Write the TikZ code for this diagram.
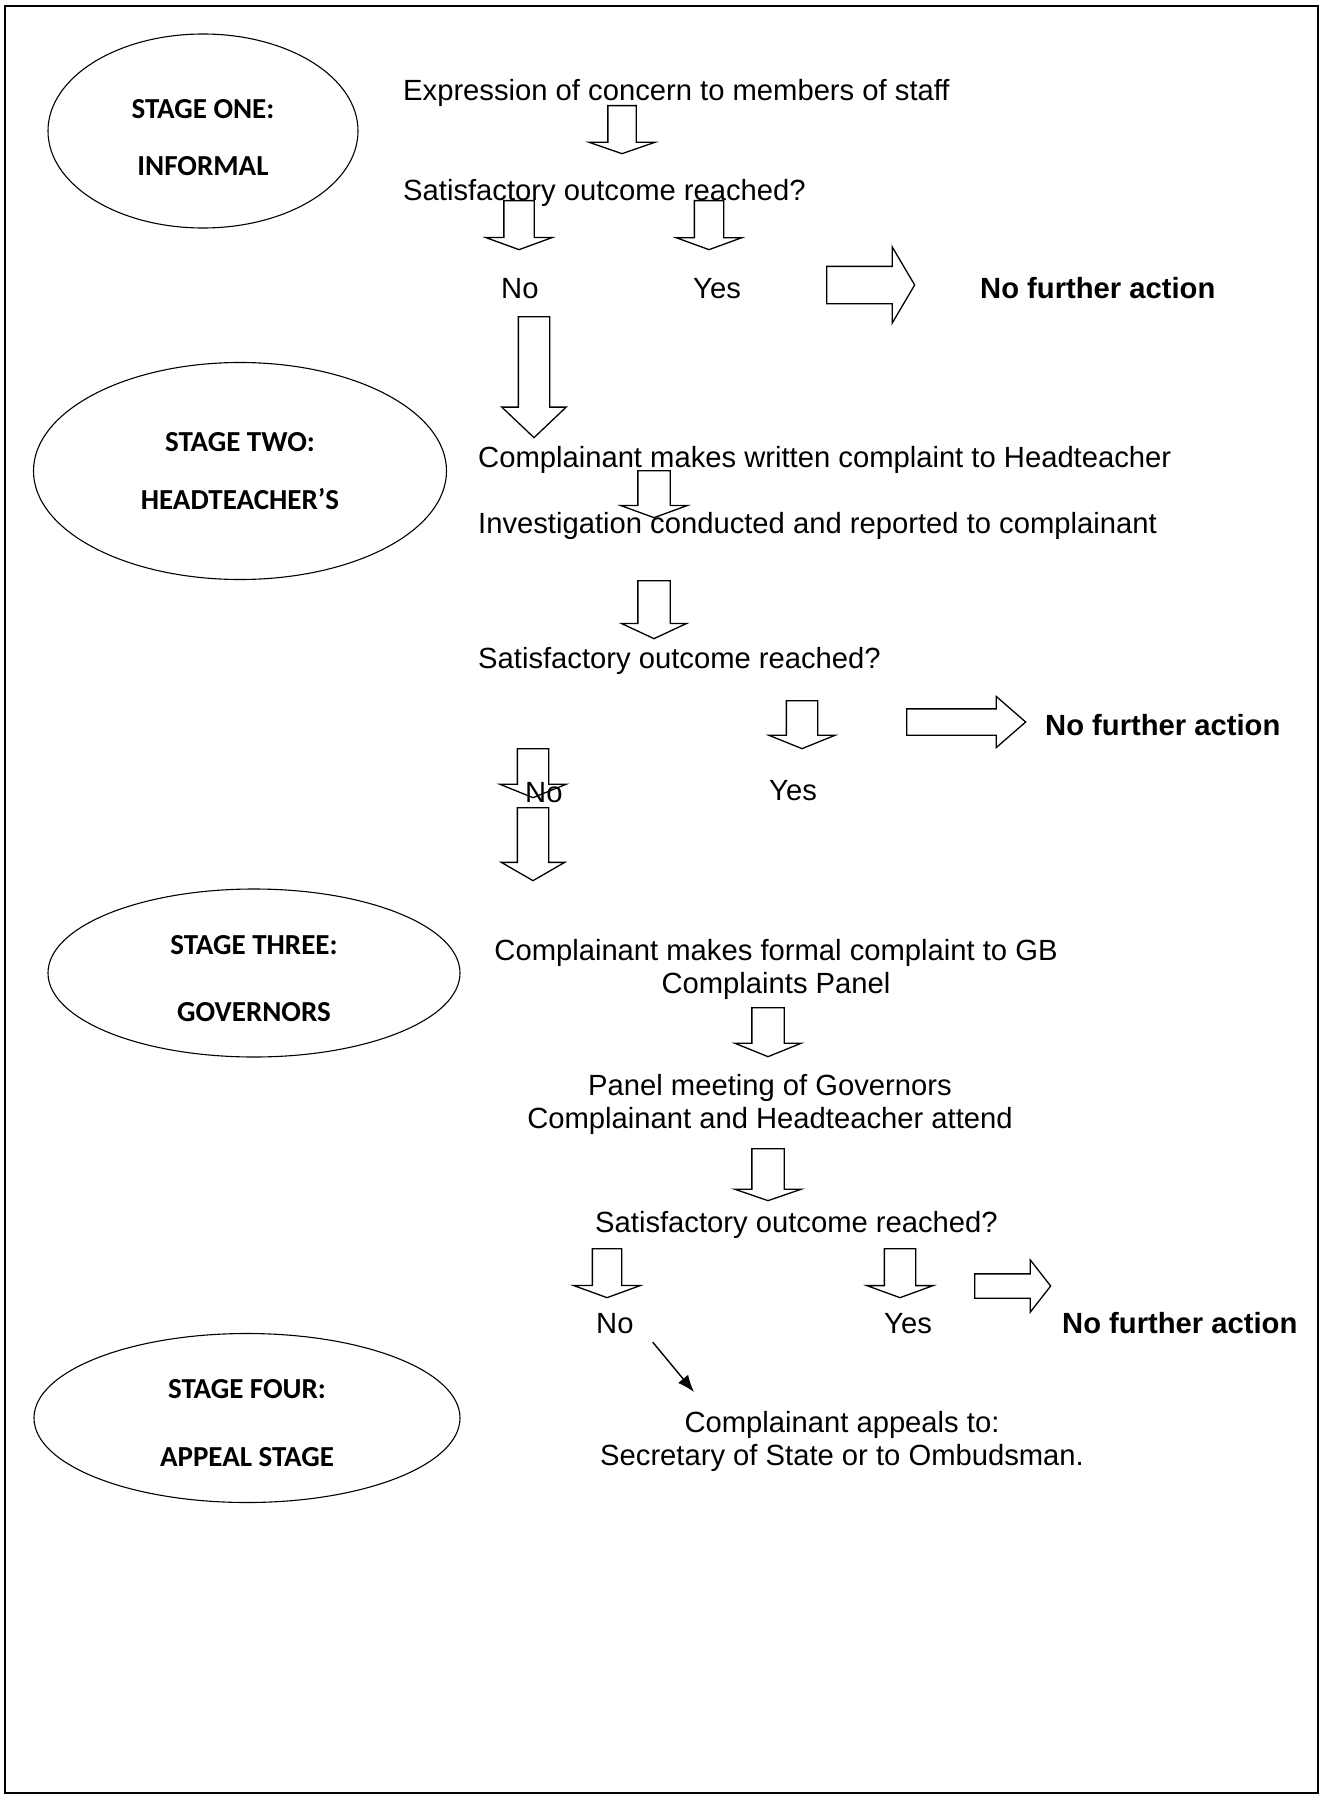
\documentclass[tikz,border=0pt]{standalone}
\usepackage{fontspec}
\setmainfont{Liberation Sans}
\newfontfamily\stagefont{Carlito}
\usepackage{tikz}
\usetikzlibrary{positioning}
\usetikzlibrary{shapes.geometric}
\usetikzlibrary{shapes.arrows}
\usetikzlibrary{arrows.meta}
\tikzstyle{stage} = [draw, ellipse, line width=1.1pt, inner sep=0pt]
\tikzstyle{stagetxt} = [inner sep=0pt, align=center, font=\stagefont\bfseries\fontsize{29}{34}\selectfont]
\tikzstyle{txt} = [inner sep=0pt, anchor=mid west, yshift=-8pt, font=\fontsize{29.2}{34}\selectfont]
\tikzstyle{btxt} = [txt, font=\bfseries\fontsize{29.2}{34}\selectfont]
\tikzstyle{ctxt} = [inner sep=0pt, align=center, font=\fontsize{29.2}{33}\selectfont]
\tikzstyle{dnarrow} = [draw, single arrow, rotate=-90, anchor=tail, line width=1.3pt, inner xsep=0pt, inner ysep=14.5pt, single arrow head extend=18pt, single arrow tip angle=140, single arrow head indent=0pt, minimum height=49pt]
\tikzstyle{rtarrow} = [draw, single arrow, anchor=tail, line width=1.3pt, inner xsep=0pt, single arrow head indent=0pt]

\begin{document}
\begin{tikzpicture}[x=1pt,y=-1pt]
    \useasboundingbox (0,0) rectangle (1321,1795);
    \draw [line width=2.3pt] (5,6) rectangle (1318,1793);

    % stage one
    \node [stage, minimum width=310pt, minimum height=194pt] (one) at (203,131) {};
    \node [stagetxt] (onetxt) at ([yshift=-7pt]one.center) {STAGE ONE:\\[23pt]INFORMAL};
    \node [txt] (expr) at (403,90) {Expression of concern to members of staff};
    \node [dnarrow, inner ysep=13.5pt, single arrow head extend=19pt, single arrow tip angle=142, minimum height=48pt] (a1) at (622,105) {};
    \node [txt] (sat1) at (403,190) {Satisfactory outcome reached?};
    \node [dnarrow] (a2) at (519,200) {};
    \node [dnarrow, inner ysep=14pt] (a3) at (709,200) {};
    \node [txt] (no1) at (501,288) {No};
    \node [txt] (yes1) at (693,288) {Yes};
    \node [rtarrow, inner ysep=18pt, single arrow head extend=19.5pt, single arrow tip angle=119, minimum height=88pt] (r1) at (826,285) {};
    \node [btxt] (nfa1) at (980,288) {No further action};

    % stage two
    \node [dnarrow, inner ysep=15pt, single arrow head extend=16.5pt, single arrow tip angle=93, minimum height=121pt] (b1) at (534,316) {};
    \node [stage, minimum width=413pt, minimum height=217pt] (two) at (240,471) {};
    \node [stagetxt] (twotxt) at (two.center) {STAGE TWO:\\[24pt]HEADTEACHER’S};
    \node [txt] (written) at (478,457) {Complainant makes written complaint to Headteacher};
    \node [dnarrow, inner ysep=15.5pt, single arrow head extend=17pt, minimum height=47pt] (a4) at (654,470) {};
    \node [txt] (invest) at (478,523) {Investigation conducted and reported to complainant};
    \node [dnarrow, inner ysep=15.5pt, single arrow head extend=16.5pt, single arrow tip angle=130, minimum height=58pt] (a5) at (654,580) {};
    \node [txt] (sat2) at (478,658) {Satisfactory outcome reached?};
    \node [dnarrow, inner ysep=15pt, single arrow head extend=17.5pt, single arrow tip angle=136, minimum height=48pt] (a6) at (802,700) {};
    \node [rtarrow, inner ysep=12.5pt, single arrow head extend=12.5pt, single arrow tip angle=82, minimum height=119pt] (r2) at (906,722) {};
    \node [btxt] (nfa2) at (1045,725) {No further action};
    \node [dnarrow, inner ysep=15pt, single arrow head extend=17.5pt, single arrow tip angle=136] (a7) at (533,748) {};
    \node [txt] (no2) at (525,792) {No};
    \node [txt] (yes2) at (769,790) {Yes};

    % stage three
    \node [dnarrow, inner ysep=15pt, single arrow head extend=16pt, single arrow tip angle=120, minimum height=73pt] (b2) at (533,807) {};
    \node [stage, minimum width=412pt, minimum height=168pt] (three) at (254,973) {};
    \node [stagetxt] (threetxt) at ([yshift=-6pt]three.center) {STAGE THREE:\\[33pt]GOVERNORS};
    \node [ctxt] (formal) at (776,969) {Complainant makes formal complaint to GB\\Complaints Panel};
    \node [dnarrow, inner ysep=15.5pt, single arrow head extend=17pt, single arrow tip angle=136] (a8) at (768,1007) {};
    \node [ctxt] (panel) at (770,1104) {Panel meeting of Governors\\Complainant and Headteacher attend};
    \node [dnarrow, inner ysep=15.5pt, single arrow head extend=17pt, single arrow tip angle=142, minimum height=52pt] (a9) at (768,1148) {};
    \node [txt] (sat3) at (595,1222) {Satisfactory outcome reached?};
    \node [dnarrow, inner ysep=14pt, single arrow head extend=19pt] (a10) at (607,1248) {};
    \node [dnarrow, inner ysep=15pt, single arrow head extend=17.5pt] (a11) at (900,1248) {};
    \node [rtarrow, inner ysep=11.5pt, single arrow head extend=14pt, single arrow tip angle=104, minimum height=76pt] (r3) at (974,1286) {};
    \node [txt] (no3) at (596,1323) {No};
    \node [txt] (yes3) at (884,1323) {Yes};
    \node [btxt] (nfa3) at (1062,1323) {No further action};

    % stage four
    \node [stage, minimum width=426pt, minimum height=169pt] (four) at (247,1418) {};
    \node [stagetxt] (fourtxt) at ([yshift=-5pt]four.center) {STAGE FOUR:\\[34pt]APPEAL STAGE};
    \node [ctxt] (appeal) at (842,1441) {Complainant appeals to:\\Secretary of State or to Ombudsman.};
    \coordinate (apptip) at (694,1392);
    \draw [-{Latex[length=17pt,width=13pt]}, line width=1.4pt] ([shift={(19,8)}]no3.south east) -- (apptip);
\end{tikzpicture}
\end{document}
